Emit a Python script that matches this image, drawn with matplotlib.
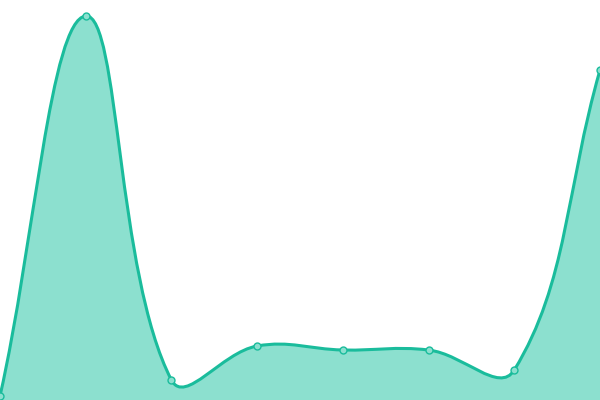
import numpy as np
import matplotlib
matplotlib.use("Agg")
import matplotlib.pyplot as plt
from matplotlib.path import Path
from matplotlib.patches import PathPatch

# values (index positions along x)
labels = ["p1", "p2", "p3", "p4", "p5", "p6", "p7", "p8"]
values = [4, 384, 20, 54, 50, 50, 30, 330]

LINE = "#1abc9c"
FILL = "#8ce0cf"
TENSION = 0.4


def spline_controls(pts, t):
    """Chart.js style spline control points (in pixel space)."""
    n = len(pts)
    ctrl = []
    for i in range(n):
        prev = pts[max(i - 1, 0)]
        cur = pts[i]
        nxt = pts[min(i + 1, n - 1)]
        d01 = np.hypot(*(cur - prev))
        d12 = np.hypot(*(nxt - cur))
        tot = d01 + d12
        s01 = d01 / tot if tot else 0
        s12 = d12 / tot if tot else 0
        fa, fb = t * s01, t * s12
        ctrl.append((cur - fa * (nxt - prev), cur + fb * (nxt - prev)))
    return ctrl


fig = plt.figure(figsize=(6, 4), dpi=100)
ax = fig.add_axes([0, 0, 1, 1])
ax.set_xlim(0, len(values) - 1)
ax.set_ylim(0, 400)
ax.axis("off")

x = np.arange(len(values))
pix = ax.transData.transform(np.column_stack([x, values]))
ctrl = spline_controls(pix, TENSION)

verts = [pix[0]]
codes = [Path.MOVETO]
for i in range(len(pix) - 1):
    verts += [ctrl[i][1], ctrl[i + 1][0], pix[i + 1]]
    codes += [Path.CURVE4] * 3
verts = ax.transData.inverted().transform(np.array(verts))

line_path = Path(verts, codes)
fill_verts = np.vstack([verts, [[x[-1], 0], [x[0], 0], verts[0]]])
fill_codes = codes + [Path.LINETO, Path.LINETO, Path.CLOSEPOLY]
fill_path = Path(fill_verts, fill_codes)

ax.add_patch(PathPatch(fill_path, facecolor=FILL, edgecolor="none", zorder=1))
ax.add_patch(PathPatch(line_path, facecolor="none", edgecolor=LINE, lw=2.2, zorder=2))
ax.plot(x, values, "o", ms=5, mfc=FILL, mec=LINE, mew=1, zorder=3, clip_on=False)

fig.savefig("out.png", dpi=100)
